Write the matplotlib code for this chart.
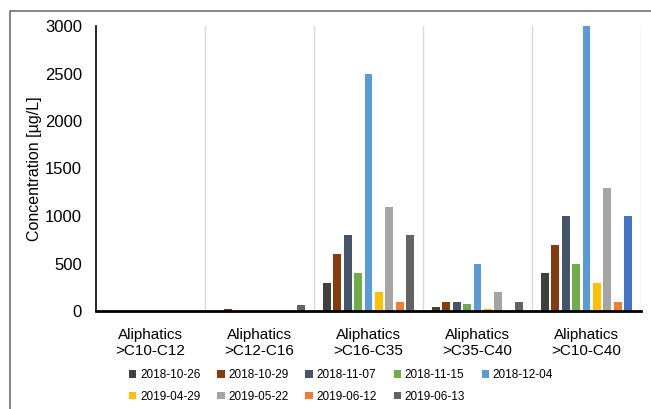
import matplotlib
matplotlib.use("Agg")
import matplotlib.pyplot as plt
import numpy as np
from matplotlib.patches import Patch
from matplotlib.lines import Line2D

plt.rcParams['font.family'] = ['Liberation Sans', 'DejaVu Sans']

categories = ["Aliphatics\n>C10-C12", "Aliphatics\n>C12-C16", "Aliphatics\n>C16-C35",
              "Aliphatics\n>C35-C40", "Aliphatics\n>C10-C40"]
dates = ["2018-10-26", "2018-10-29", "2018-11-07", "2018-11-15", "2018-12-04",
         "2019-04-29", "2019-05-22", "2019-06-12", "2019-06-13"]
values = {
    "2018-10-26": [0, 0, 300, 40, 400],
    "2018-10-29": [0, 25, 600, 90, 700],
    "2018-11-07": [0, 0, 800, 100, 1000],
    "2018-11-15": [0, 0, 400, 70, 500],
    "2018-12-04": [0, 0, 2500, 500, 3000],
    "2019-04-29": [0, 0, 200, 25, 300],
    "2019-05-22": [0, 5, 1100, 200, 1300],
    "2019-06-12": [0, 0, 100, 0, 100],
    "2019-06-13": [0, 65, 800, 100, 1000],
}
colors = ["#404040", "#843C0C", "#44546A", "#70AD47", "#5B9BD5",
          "#FFC000", "#A5A5A5", "#ED7D31", "#636363"]
# the last bar of the last group is drawn in a different blue
special_color = "#4472C4"

W, H = 651, 409
fig = plt.figure(figsize=(W / 100, H / 100), dpi=100)
ax = fig.add_axes([96 / W, (H - 311) / H, 545 / W, 285 / H])

n = len(dates)
pitch = 0.095
width = 0.073
x = np.arange(len(categories)) + 0.5
for i, d in enumerate(dates):
    offs = (i - (n - 1) / 2) * pitch
    bars = ax.bar(x + offs, values[d], width=width, color=colors[i], zorder=3)
    if d == "2019-06-13":
        bars[-1].set_facecolor(special_color)

ax.set_xlim(0, len(categories))
ax.set_ylim(0, 3000)
ax.set_yticks(np.arange(0, 3001, 500))
ax.tick_params(axis='y', labelsize=12, length=0, pad=10)
ax.set_xticks(x)
ax.set_xticklabels(categories, fontsize=11)
ax.tick_params(axis='x', length=0, pad=12)
for k in range(1, len(categories) + 1):
    ax.axvline(k, color="#D9D9D9", lw=1, zorder=1)
for s in ["top", "right"]:
    ax.spines[s].set_visible(False)
ax.spines["left"].set_linewidth(1.2)
ax.spines["bottom"].set_linewidth(2)
ax.spines["bottom"].set_zorder(4)
ax.set_ylabel("Concentration [µg/L]", fontsize=11.5, labelpad=2)

handles = [Patch(facecolor=c, edgecolor='none') for c in colors]
order = [0, 5, 1, 6, 2, 7, 3, 8, 4]
fig.legend([handles[i] for i in order], [dates[i] for i in order], ncol=5, loc="center",
           bbox_to_anchor=(341 / W, 1 - 386 / H),
           frameon=False, fontsize=8.5, handlelength=0.6, handleheight=0.6,
           handletextpad=0.3, columnspacing=1.45, labelspacing=0.8)

# chart border (partially visible)
fig.add_artist(Line2D([10 / W, 10 / W, 1.0], [0, 1 - 11 / H, 1 - 11 / H],
                      transform=fig.transFigure, color="#707070", lw=1.2))

fig.savefig("out.png", dpi=100)
